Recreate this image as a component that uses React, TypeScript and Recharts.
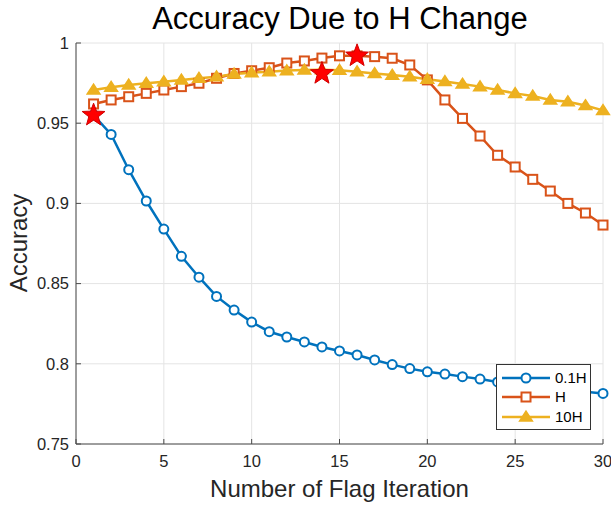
import React from "react";
import {
  ComposedChart,
  Line,
  Scatter,
  XAxis,
  YAxis,
  CartesianGrid,
} from "recharts";

const iterations = [1, 2, 3, 4, 5, 6, 7, 8, 9, 10, 11, 12, 13, 14, 15, 16, 17, 18, 19, 20, 21, 22, 23, 24, 25, 26, 27, 28, 29, 30];
const acc01H = [0.955, 0.943, 0.921, 0.9015, 0.884, 0.867, 0.854, 0.842, 0.8335, 0.826, 0.82, 0.8167, 0.8136, 0.8105, 0.808, 0.8055, 0.8024, 0.7995, 0.797, 0.795, 0.7936, 0.792, 0.7905, 0.7887, 0.7875, 0.7862, 0.785, 0.7838, 0.7826, 0.7815];
const accH = [0.962, 0.9645, 0.9665, 0.9686, 0.9707, 0.9728, 0.9749, 0.978, 0.981, 0.9827, 0.9846, 0.9875, 0.9888, 0.9906, 0.992, 0.992, 0.9915, 0.9905, 0.9863, 0.977, 0.9645, 0.953, 0.942, 0.93, 0.9227, 0.915, 0.9077, 0.9, 0.894, 0.8865];
const acc10H = [0.9707, 0.9724, 0.9738, 0.9749, 0.9759, 0.977, 0.978, 0.979, 0.9807, 0.9815, 0.9821, 0.9828, 0.9832, 0.9833, 0.983, 0.9821, 0.981, 0.98, 0.979, 0.9774, 0.976, 0.9744, 0.9728, 0.9707, 0.9686, 0.967, 0.9645, 0.9634, 0.961, 0.958];
const starX = [1, 14, 16];
const starY = [0.955, 0.981, 0.992];
const xTicks = [0, 5, 10, 15, 20, 25, 30];
const yTicks = [0.75, 0.8, 0.85, 0.9, 0.95, 1];
const seriesNames = ["0.1H", "H", "10H"];

const BLUE = "#0072BD";
const ORANGE = "#D95319";
const YELLOW = "#EDB120";
const AXIS = "#4a4a4a";
const FONT = "'Liberation Sans', Arial, sans-serif";
const TICK_FONT = 16.5;
const TICK_LEN = 5;

const data = iterations.map((x, i) => ({ x, a: acc01H[i], b: accH[i], c: acc10H[i] }));
const stars = starX.map((x, i) => ({ x, y: starY[i] }));

const circleDot = (p: any) => (
  <circle key={`c${p.index}`} cx={p.cx} cy={p.cy} r={4.5} fill="#fff" stroke={BLUE} strokeWidth={2} />
);
const squareDot = (p: any) => (
  <rect key={`s${p.index}`} x={p.cx - 4.5} y={p.cy - 4.5} width={9} height={9} fill="#fff" stroke={ORANGE} strokeWidth={2} />
);
const triPath = (cx: number, cy: number, s: number) =>
  `M${cx},${cy - s} L${cx + s * 1.1},${cy + s * 0.7} L${cx - s * 1.1},${cy + s * 0.7} Z`;
const triDot = (p: any) => (
  <path key={`t${p.index}`} d={triPath(p.cx, p.cy, 5.8)} fill={YELLOW} stroke={YELLOW} strokeWidth={1.5} />
);

const starPath = (cx: number, cy: number, R: number, r: number) => {
  const pts: string[] = [];
  for (let i = 0; i < 10; i++) {
    const rad = i % 2 === 0 ? R : r;
    const ang = -Math.PI / 2 + (i * Math.PI) / 5;
    pts.push(`${cx + rad * Math.cos(ang)},${cy + rad * Math.sin(ang)}`);
  }
  return `M${pts.join(" L")} Z`;
};
const StarShape = (p: any) => (
  <path d={starPath(p.cx, p.cy, 12, 5)} fill="#FF0000" stroke="#D00000" strokeWidth={1} />
);

const X_MARGIN = 11;
const Y_MARGIN = 7;

const BottomTick = (p: any) => {
  const ay = p.y - X_MARGIN;
  return (
    <g>
      <line x1={p.x} x2={p.x} y1={ay} y2={ay - TICK_LEN} stroke={AXIS} strokeWidth={1} />
      <text x={p.x} y={p.y} dy="0.71em" textAnchor="middle" fontFamily={FONT} fontSize={TICK_FONT} fill="#262626">
        {p.payload.value}
      </text>
    </g>
  );
};
const LeftTick = (p: any) => {
  const ax = p.x + Y_MARGIN;
  return (
    <g>
      <line x1={ax} x2={ax + TICK_LEN} y1={p.y} y2={p.y} stroke={AXIS} strokeWidth={1} />
      <text x={p.x} y={p.y} dy="0.355em" textAnchor="end" fontFamily={FONT} fontSize={TICK_FONT} fill="#262626">
        {p.payload.value}
      </text>
    </g>
  );
};
const TopTick = (p: any) => (
  <line x1={p.x} x2={p.x} y1={p.y} y2={p.y + TICK_LEN} stroke={AXIS} strokeWidth={1} />
);
const RightTick = (p: any) => (
  <line x1={p.x} x2={p.x - TICK_LEN} y1={p.y} y2={p.y} stroke={AXIS} strokeWidth={1} />
);

export default function App() {
  return (
    <div style={{ position: "absolute", left: 0, top: 0, width: 611, height: 506, background: "#fff" }}>
      <ComposedChart width={611} height={506} data={data} margin={{ top: 43, right: 8, left: 0, bottom: 0 }}>
        <CartesianGrid stroke="#e4e4e4" strokeWidth={1} />
        <XAxis
          dataKey="x"
          type="number"
          domain={[0, 30]}
          ticks={xTicks}
          height={62}
          tick={BottomTick}
          tickSize={0}
          tickMargin={X_MARGIN}
          tickLine={false}
          axisLine={{ stroke: AXIS }}
          label={{
            content: (props: any) => {
              const vb = props.viewBox;
              return (
                <text x={vb.x + vb.width / 2} y={497} textAnchor="middle" fontFamily={FONT} fontSize={24} fill="#262626">
                  Number of Flag Iteration
                </text>
              );
            },
          }}
        />
        <XAxis
          xAxisId="top"
          orientation="top"
          dataKey="x"
          type="number"
          domain={[0, 30]}
          ticks={xTicks}
          height={0}
          tick={TopTick}
          tickSize={0}
          tickMargin={0}
          tickLine={false}
          axisLine={{ stroke: AXIS }}
        />
        <YAxis
          type="number"
          domain={[0.75, 1]}
          ticks={yTicks}
          width={76}
          tick={LeftTick}
          tickSize={0}
          tickMargin={Y_MARGIN}
          tickLine={false}
          axisLine={{ stroke: AXIS }}
          allowDataOverflow
          label={{
            content: () => (
              <text x={27} y={243} textAnchor="middle" fontFamily={FONT} fontSize={24} fill="#262626" transform="rotate(-90 27 243)">
                Accuracy
              </text>
            ),
          }}
        />
        <YAxis
          yAxisId="right"
          orientation="right"
          type="number"
          domain={[0.75, 1]}
          ticks={yTicks}
          width={0}
          tick={RightTick}
          tickSize={0}
          tickMargin={0}
          tickLine={false}
          axisLine={{ stroke: AXIS }}
        />
        <Line dataKey="a" stroke={BLUE} strokeWidth={2.5} dot={circleDot} isAnimationActive={false} />
        <Line dataKey="b" stroke={ORANGE} strokeWidth={2.5} dot={squareDot} isAnimationActive={false} />
        <Line dataKey="c" stroke={YELLOW} strokeWidth={2.5} dot={triDot} isAnimationActive={false} />
        <Scatter data={stars} dataKey="y" shape={StarShape} isAnimationActive={false} />
      </ComposedChart>
      <svg style={{ position: "absolute", left: 0, top: 0, pointerEvents: "none" }} width={611} height={40}>
        <text x={340} y={29} textAnchor="middle" fontFamily={FONT} fontSize={31} fill="#000">
          Accuracy Due to H Change
        </text>
      </svg>
      <svg style={{ position: "absolute", left: 496, top: 364 }} width={95} height={66}>
        <rect x={0.5} y={0.5} width={94} height={65} fill="#fff" stroke="#333" strokeWidth={1} />
        <line x1={6} y1={14} x2={54} y2={14} stroke={BLUE} strokeWidth={2.5} />
        <circle cx={30} cy={14} r={4.5} fill="#fff" stroke={BLUE} strokeWidth={2} />
        <text x={59} y={19} fontFamily={FONT} fontSize={15} fill="#000">{seriesNames[0]}</text>
        <line x1={6} y1={33} x2={54} y2={33} stroke={ORANGE} strokeWidth={2.5} />
        <rect x={25.5} y={28.5} width={9} height={9} fill="#fff" stroke={ORANGE} strokeWidth={2} />
        <text x={59} y={38} fontFamily={FONT} fontSize={15} fill="#000">{seriesNames[1]}</text>
        <line x1={6} y1={53} x2={54} y2={53} stroke={YELLOW} strokeWidth={2.5} />
        <path d={triPath(30, 53, 5.8)} fill={YELLOW} stroke={YELLOW} strokeWidth={1.5} />
        <text x={59} y={58} fontFamily={FONT} fontSize={15} fill="#000">{seriesNames[2]}</text>
      </svg>
    </div>
  );
}
